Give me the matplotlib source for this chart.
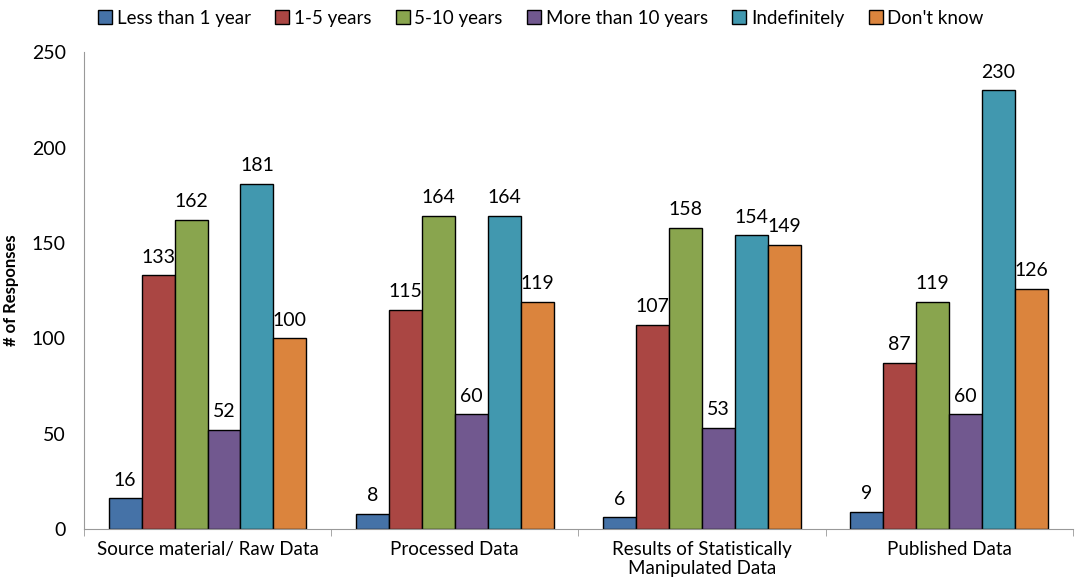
import numpy as np
import matplotlib.pyplot as plt

categories = ["Source material/ Raw Data", "Processed Data",
              "Results of Statistically\nManipulated Data", "Published Data"]
series = ["Less than 1 year", "1-5 years", "5-10 years",
          "More than 10 years", "Indefinitely", "Don't know"]
less_1 = [16, 8, 6, 9]
y1_5 = [133, 115, 107, 87]
y5_10 = [162, 164, 158, 119]
more_10 = [52, 60, 53, 60]
indefinitely = [181, 164, 154, 230]
dont_know = [100, 119, 149, 126]
values = [less_1, y1_5, y5_10, more_10, indefinitely, dont_know]
colors = ["#4572A7", "#AA4643", "#89A54E", "#71588F", "#4198AF", "#DB843D"]

plt.rcParams['font.family'] = ['Lato', 'DejaVu Sans']

fig = plt.figure(figsize=(10.76, 5.87), dpi=100)
ax = fig.add_axes([0.078, 0.099, 0.919, 0.812])

x = np.arange(len(categories))
w = 0.8 / len(series)
for i, (name, vals, c) in enumerate(zip(series, values, colors)):
    pos = x - 0.4 + w * (i + 0.5)
    bars = ax.bar(pos, vals, w, color=c, edgecolor="black", linewidth=1, label=name)
    for b, v in zip(bars, vals):
        ax.annotate(str(v), (b.get_x() + b.get_width() / 2, v), xytext=(0, 7),
                    textcoords="offset points", ha="center", va="bottom", fontsize=14)

ax.set_xlim(-0.5, len(categories) - 0.5)
ax.set_ylim(0, 250)
ax.set_yticks(range(0, 251, 50))
ax.set_xticks(x)
ax.set_xticklabels(categories, fontsize=13.5, linespacing=1.1)
ax.set_xticks(np.arange(-0.5, len(categories), 1), minor=True)
ax.tick_params(axis="x", which="major", length=0, pad=9)
ax.tick_params(axis="x", which="minor", length=5, color="#999999")
ax.tick_params(axis="y", length=0, labelsize=14, pad=13)
for s in ["top", "right"]:
    ax.spines[s].set_visible(False)
for s in ["left", "bottom"]:
    ax.spines[s].set_color("#999999")
ax.set_ylabel("# of Responses", fontsize=12, fontweight="bold")
ax.yaxis.set_label_coords(-0.066, 0.5)

ax.legend(loc="upper center", bbox_to_anchor=(0.462, 1.125), ncol=6, frameon=False,
          fontsize=13.5, handlelength=0.75, handleheight=0.75, handletextpad=0.25,
          columnspacing=1.3)

fig.savefig("out.png")
